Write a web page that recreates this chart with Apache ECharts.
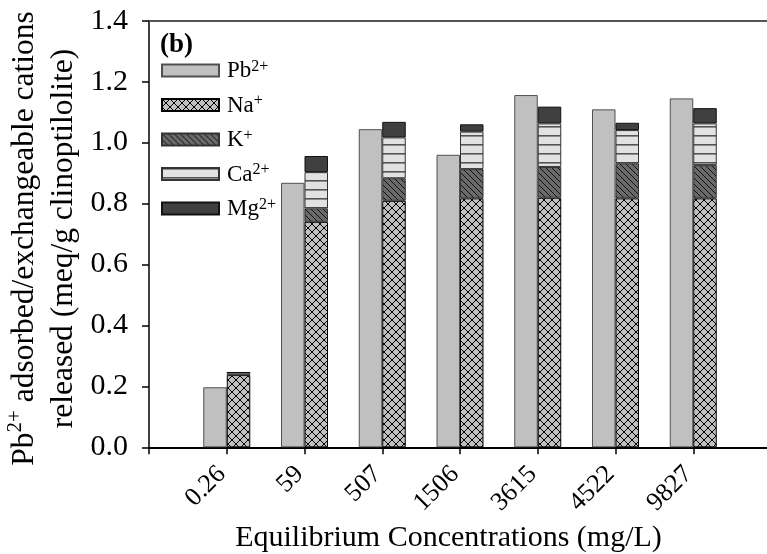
<!DOCTYPE html>
<html>
<head>
<meta charset="utf-8">
<script src="https://cdn.jsdelivr.net/npm/echarts@6/dist/echarts.min.js"></script>
<style>
html,body{margin:0;padding:0;background:#fff;}
#chart{width:767px;height:554px;}
</style>
</head>
<body>
<div id="chart"></div>
<script>
// ---- data ----
var categories = ['0.26', '59', '507', '1506', '3615', '4522', '9827'];
var pbAdsorbed = [0.197, 0.868, 1.044, 0.960, 1.156, 1.109, 1.145];
var naReleased = [0.237, 0.740, 0.809, 0.817, 0.819, 0.817, 0.817];
var kReleased  = [0.001, 0.044, 0.074, 0.096, 0.101, 0.115, 0.109];
var caReleased = [0.007, 0.119, 0.134, 0.123, 0.143, 0.109, 0.137];
var mgReleased = [0.001, 0.053, 0.051, 0.024, 0.055, 0.024, 0.050];
var yTicks = [0, 0.2, 0.4, 0.6, 0.8, 1.0, 1.2, 1.4];

// ---- patterns ----
function makeCanvas(w, h, bg) {
  var c = document.createElement('canvas');
  c.width = w; c.height = h;
  var ctx = c.getContext('2d');
  ctx.fillStyle = bg; ctx.fillRect(0, 0, w, h);
  return {c: c, ctx: ctx};
}
function crossHatch() {
  var p = makeCanvas(8, 8, '#c0c0c0');
  var ctx = p.ctx;
  ctx.strokeStyle = '#000'; ctx.lineWidth = 1;
  ctx.beginPath();
  ctx.moveTo(0, 0); ctx.lineTo(8, 8);
  ctx.moveTo(8, 0); ctx.lineTo(0, 8);
  ctx.stroke();
  return p.c;
}
function diagHatch() {
  var p = makeCanvas(6, 6, '#6a6a6a');
  var ctx = p.ctx;
  ctx.strokeStyle = '#111'; ctx.lineWidth = 1;
  ctx.beginPath();
  ctx.moveTo(-1, -1); ctx.lineTo(7, 7);
  ctx.moveTo(-4, 2); ctx.lineTo(4, 10);
  ctx.moveTo(2, -4); ctx.lineTo(10, 4);
  ctx.stroke();
  return p.c;
}
function horizLines() {
  var p = makeCanvas(4, 9, '#e2e2e2');
  var ctx = p.ctx;
  ctx.fillStyle = '#555';
  ctx.fillRect(0, 0, 4, 1.6);
  return p.c;
}
var naPattern = {image: crossHatch(), repeat: 'repeat'};
var kPattern = {image: diagHatch(), repeat: 'repeat'};
var caPattern = {image: horizLines(), repeat: 'repeat'};

var axisCats = [''].concat(categories).concat(['']);
function pad(arr) { return [null].concat(arr).concat([null]); }

var FONT = '"Liberation Serif", "Times New Roman", serif';
var chart = echarts.init(document.getElementById('chart'), null, {renderer: 'canvas'});

var legendNames = {
  'Pb': '{n|Pb}{s|2+}',
  'Na': '{n|Na}{s|+}',
  'K': '{n|K}{s|+}',
  'Ca': '{n|Ca}{s|2+}',
  'Mg': '{n|Mg}{s|2+}'
};

var barW = 23.5;
var option = {
  animation: false,
  backgroundColor: '#fff',
  textStyle: {fontFamily: FONT},
  title: {
    text: '(b)', left: 155, top: 27,
    textStyle: {fontFamily: FONT, fontWeight: 'bold', fontSize: 27, color: '#000'}
  },
  legend: {
    orient: 'vertical', left: 156, top: 53.5,
    itemWidth: 57, itemHeight: 12, itemGap: 10.5,
    icon: 'rect',
    data: ['Pb', 'Na', 'K', 'Ca', 'Mg'],
    formatter: function (name) { return legendNames[name]; },
    textStyle: {
      fontFamily: FONT, color: '#000', padding: [0, 0, 0, 3],
      rich: {
        n: {fontFamily: FONT, fontSize: 23, lineHeight: 24, color: '#000', verticalAlign: 'bottom'},
        s: {fontFamily: FONT, fontSize: 16, lineHeight: 24, color: '#000', verticalAlign: 'top', padding: [0, 0, 8, 0]}
      }
    },
    selectedMode: false
  },
  grid: {left: 149, top: 20.7, width: 622, height: 426.6, containLabel: false, outerBoundsMode: 'none'},
  xAxis: [{
    type: 'category',
    data: axisCats,
    boundaryGap: false,
    axisLine: {lineStyle: {color: '#000', width: 2}},
    axisTick: {show: true, inside: false, length: 7, lineStyle: {color: '#000', width: 1.5}},
    axisLabel: {
      interval: 0, rotate: 45, margin: 18, padding: [0, 7, 0, 0],
      fontFamily: FONT, fontSize: 26, color: '#000'
    },
    name: 'Equilibrium Concentrations (mg/L)',
    nameLocation: 'middle', nameGap: 76, nameMoveOverlap: false,
    nameTextStyle: {fontFamily: FONT, fontSize: 30, color: '#000', lineHeight: 30, padding: [0, 23, 0, 0]},
    splitLine: {show: false}
  }, {
    type: 'category',
    data: axisCats,
    position: 'top',
    boundaryGap: false,
    axisLine: {lineStyle: {color: '#555', width: 2}},
    axisTick: {show: false},
    axisLabel: {show: false},
    splitLine: {show: false}
  }],
  yAxis: {
    type: 'value',
    min: 0, max: 1.4, interval: 0.2,
    axisLine: {show: true, lineStyle: {color: '#000', width: 1.5}},
    axisTick: {show: true, inside: false, length: 7, lineStyle: {color: '#000', width: 1.5}},
    axisLabel: {
      margin: 21, fontFamily: FONT, fontSize: 30, color: '#000',
      formatter: function (v) { return v.toFixed(1); }
    },
    splitLine: {show: false},
    name: '{n|Pb}{s|2+}{n| adsorbed/exchangeable cations}\n{n|released (meq/g clinoptilolite)}',
    nameLocation: 'middle', nameGap: 66, nameRotate: 90, nameMoveOverlap: false,
    nameTextStyle: {
      fontFamily: FONT, fontSize: 31.5, color: '#000', lineHeight: 39, padding: [0, 9, 0, 0],
      rich: {
        n: {fontFamily: FONT, fontSize: 31.5, lineHeight: 39, color: '#000'},
        s: {fontFamily: FONT, fontSize: 21, lineHeight: 39, color: '#000', verticalAlign: 'top', padding: [0, 0, 6, 0]}
      }
    }
  },
  series: [
    {name: 'Pb', type: 'bar', stack: 'pb', data: pad(pbAdsorbed), barWidth: barW, barGap: '0%',
     itemStyle: {color: '#c0c0c0', borderColor: '#505050', borderWidth: 1}},
    {name: 'Na', type: 'bar', stack: 'ex', data: pad(naReleased), barWidth: barW, barGap: '0%',
     itemStyle: {color: naPattern, borderColor: '#000', borderWidth: 1}},
    {name: 'K', type: 'bar', stack: 'ex', data: pad(kReleased), barWidth: barW, barGap: '0%',
     itemStyle: {color: kPattern, borderColor: '#333', borderWidth: 1}},
    {name: 'Ca', type: 'bar', stack: 'ex', data: pad(caReleased), barWidth: barW, barGap: '0%',
     itemStyle: {color: caPattern, borderColor: '#333', borderWidth: 1}},
    {name: 'Mg', type: 'bar', stack: 'ex', data: pad(mgReleased), barWidth: barW, barGap: '0%',
     itemStyle: {color: '#404040', borderColor: '#111', borderWidth: 1}}
  ]
};
chart.setOption(option);
</script>
</body>
</html>
